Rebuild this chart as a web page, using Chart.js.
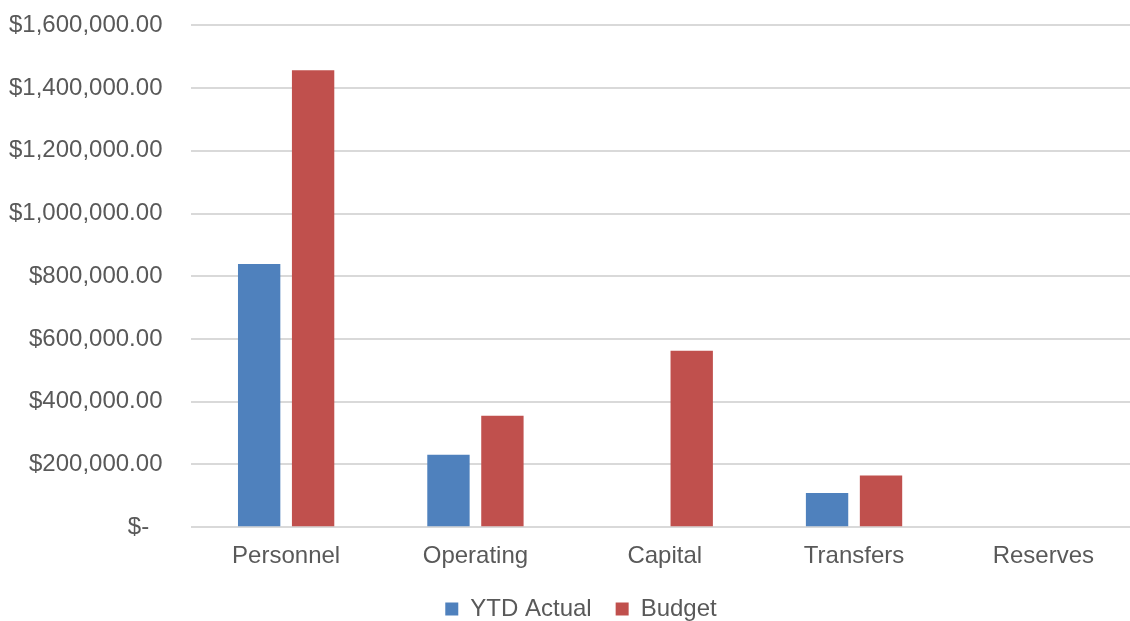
<!DOCTYPE html>
<html>
<head>
<meta charset="utf-8">
<script src="https://cdn.jsdelivr.net/npm/chart.js@4"></script>
<style>
  html, body { margin: 0; padding: 0; background: #fff; overflow: hidden; width: 1130px; height: 621px; }
  #wrap { width: 1138px; height: 658px; margin-top: -18px; }
</style>
</head>
<body>
<div id="wrap"><canvas id="budgetChart"></canvas></div>
<script>
// kategorie a hodnoty
const categories = ["Personnel", "Operating", "Capital", "Transfers", "Reserves"];
const ytdActual = [839000, 231000, 0, 109000, 0];
const budget = [1457000, 355000, 563000, 165000, 0];

function money(v) {
  if (v === 0) return "$-  ";
  return "$" + v.toLocaleString("en-US", { minimumFractionDigits: 2, maximumFractionDigits: 2 });
}

// legenda trochu výš a doprava, jako v originálu
const legendShift = {
  id: "legendShift",
  afterLayout(chart) {
    const lg = chart.legend;
    lg.top -= 5;
    lg.bottom -= 5;
    lg.left += 22;
    lg.right += 22;
  }
};

Chart.defaults.font.family = "'Liberation Sans', Arial, sans-serif";
Chart.defaults.color = "#595959";

new Chart(document.getElementById("budgetChart"), {
  type: "bar",
  data: {
    labels: categories,
    datasets: [
      { label: "YTD Actual", data: ytdActual, backgroundColor: "#4F81BD" },
      { label: "Budget", data: budget, backgroundColor: "#C0504D" }
    ]
  },
  plugins: [legendShift],
  options: {
    responsive: true,
    maintainAspectRatio: false,
    animation: false,
    categoryPercentage: 0.57,
    barPercentage: 0.785,
    layout: { padding: { top: 10, left: -20, right: 0, bottom: 4 } },
    plugins: {
      tooltip: { enabled: false },
      legend: {
        position: "bottom",
        labels: {
          font: { size: 24 },
          boxWidth: 13,
          boxHeight: 13,
          padding: 24
        }
      }
    },
    scales: {
      x: {
        grid: { display: false },
        border: { display: false },
        ticks: { font: { size: 24 }, padding: 7 }
      },
      y: {
        min: 0,
        max: 1600000,
        border: { display: false },
        grid: { color: "#D9D9D9", lineWidth: 2, drawTicks: false },
        ticks: {
          stepSize: 200000,
          font: { size: 24 },
          padding: 29,
          callback: v => money(v)
        }
      }
    }
  }
});
</script>
</body>
</html>
